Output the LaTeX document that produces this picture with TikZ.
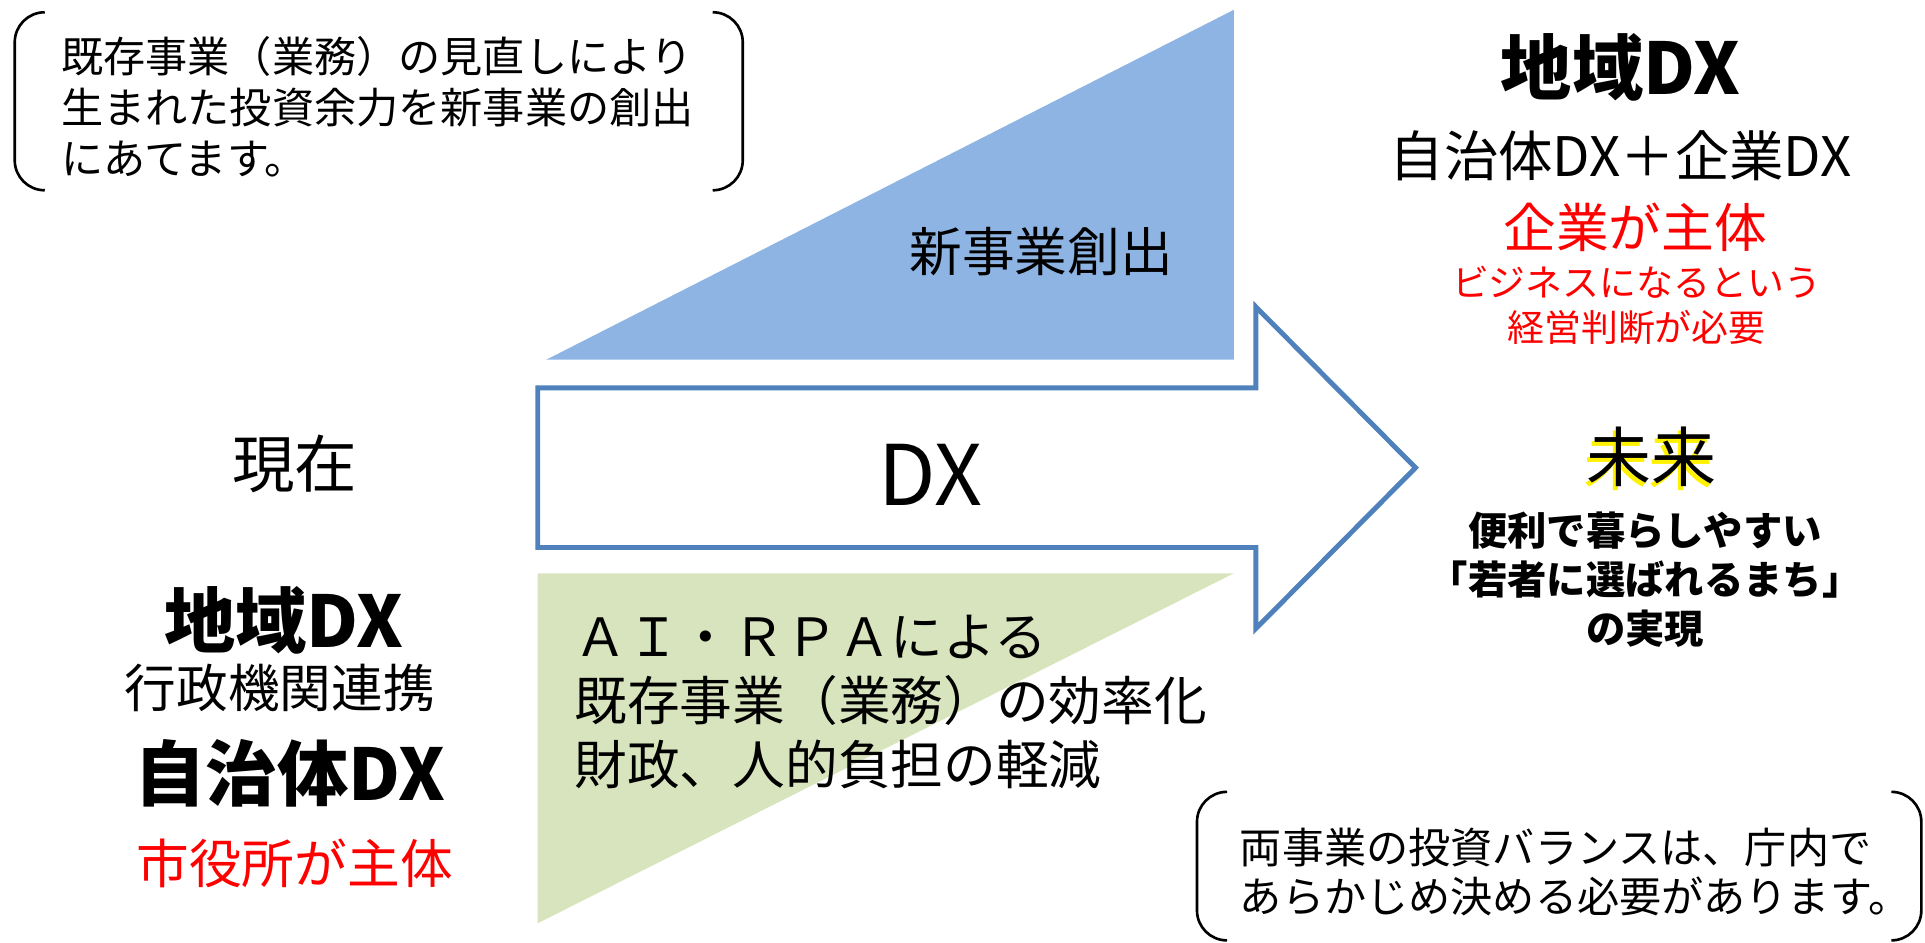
\documentclass[tikz,border=0pt]{standalone}
\usepackage{fontspec}
\setmainfont{Noto Sans CJK JP}
\usepackage{tikz}
\usetikzlibrary{positioning}
\usepackage{xcolor}
\definecolor{newblue}{HTML}{8EB4E3}
\definecolor{arrowblue}{HTML}{4F81BD}
\definecolor{effgreen}{HTML}{D7E4BD}
\newcommand{\setfs}[2]{\fontsize{#1}{#2}\selectfont}

\begin{document}
\begin{tikzpicture}[x=0.012277cm,y=-0.012277cm,every node/.style={inner sep=0pt,outer sep=0pt},
  bracketline/.style={draw=black,line width=0.75pt,rounded corners=0.3cm},
  memo/.style={align=left,anchor=west},
  plain/.style={align=center}]

  \useasboundingbox (0,0) rectangle (1568,768);

  % shapes
  \fill[newblue] (445,293) -- (1005,293) -- (1005,8) -- cycle;
  \fill[effgreen] (438,467) -- (1005,467) -- (438,752) -- cycle;
  \draw[arrowblue,line width=1.4pt,fill=white,line join=miter]
    (438,316) -- (1023,316) -- (1023,250) -- (1153,381) -- (1023,512) -- (1023,446) -- (438,446) -- cycle;

  % brackets
  \draw[bracketline] (36,10) -- (12,10) -- (12,155) -- (36,155);
  \draw[bracketline] (581,10) -- (605,10) -- (605,155) -- (581,155);
  \draw[bracketline] (999,645) -- (975,645) -- (975,766) -- (999,766);
  \draw[bracketline] (1541,645) -- (1565,645) -- (1565,766) -- (1541,766);

  % notes
  \node[memo,font=\setfs{12}{14.5}] (memotop) at (50,87) {既存事業（業務）の見直しにより\\生まれた投資余力を新事業の創出\\にあてます。};
  \node[memo,font=\setfs{12}{14}] (memobottom) at (1010,710) {両事業の投資バランスは、庁内で\\あらかじめ決める必要があります。};

  % arrow texts
  \node[font=\setfs{15}{18}] (newbiz) at (848,205) {新事業創出};
  \node[font=\setfs{23.8}{28}] (dx) at (758,387) {DX};
  \node[memo,font=\setfs{15}{18.2}] (effic) at (468,572) {ＡＩ・ＲＰＡによる\\既存事業（業務）の効率化\\財政、人的負担の軽減};

  % now
  \node[font=\setfs{17.8}{20}] (now) at (240,378) {現在};
  \node[font=\setfs{20.3}{24}\bfseries] (ltitle) at (231,505) {地域DX};
  \node[font=\setfs{14.7}{18}] (lgov) at (228,560) {行政機関連携};
  \node[font=\setfs{20.3}{24}\bfseries] (lsub) at (236,630) {自治体DX};
  \node[text=red,font=\setfs{15}{18}] (lactor) at (240,703) {市役所が主体};

  % future
  \node[font=\setfs{20.3}{24}\bfseries] (rtitle) at (1320,55) {地域DX};
  \node[font=\setfs{15.5}{18}] (rsub) at (1320,127) {自治体DX＋企業DX};
  \node[text=red,font=\setfs{15}{18}] (ractor) at (1332,185) {企業が主体};
  \node[plain,text=red,font=\setfs{10.5}{12.9}] (rjudge) at (1333,249) {ビジネスになるという\\経営判断が必要};
  \node[text=yellow,font=\setfs{18.5}{20}] at (1343,375) {未来};
  \node[font=\setfs{18.5}{20}] (future) at (1345,372) {未来};
  \node[plain,font=\setfs{11.2}{14}\bfseries] (vision) at (1340,472) {便利で暮らしやすい\\「若者に選ばれるまち」\\の実現};
\end{tikzpicture}
\end{document}
